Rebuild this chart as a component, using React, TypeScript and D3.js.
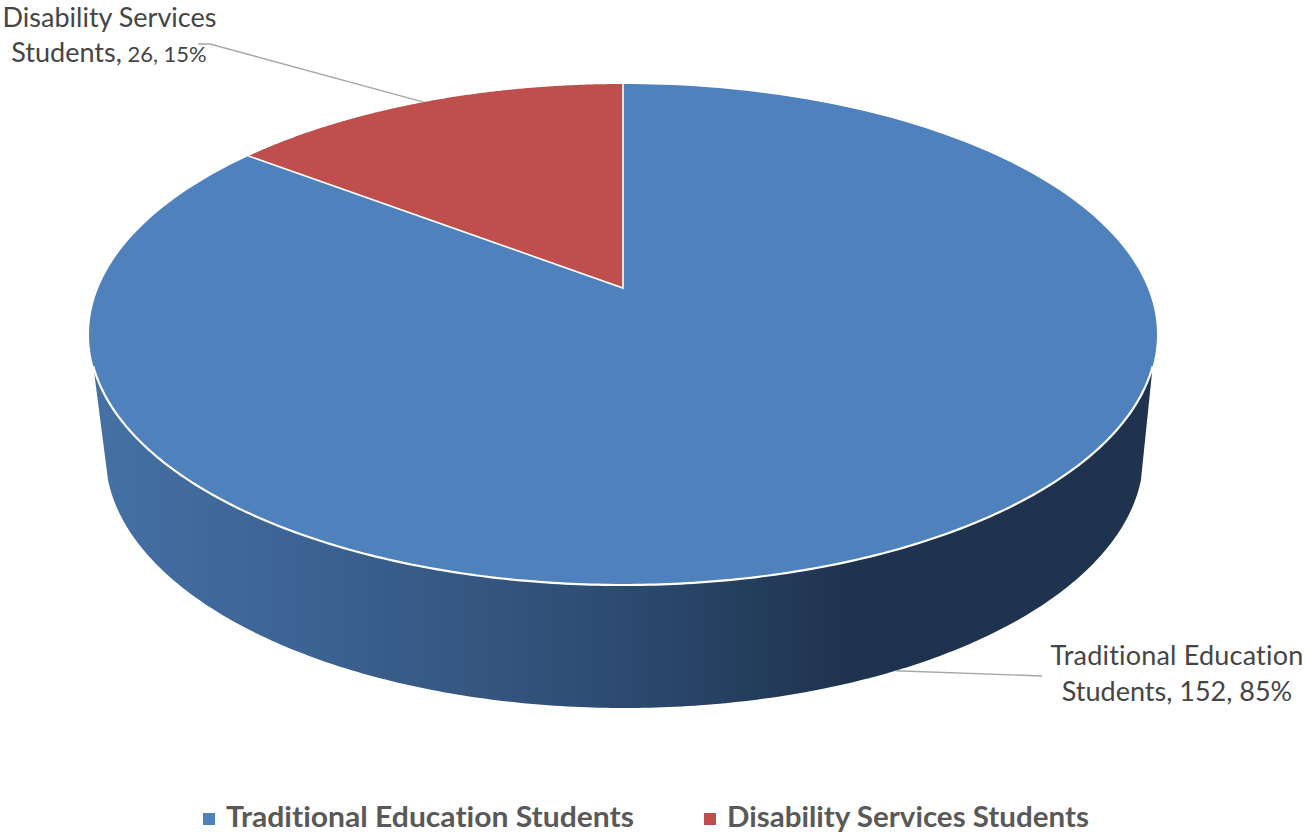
import React from "react";
import * as d3 from "d3";

const categories = ["Traditional Education Students", "Disability Services Students"];
const values = [152, 26];
const percents = ["85%", "15%"];
const colors = ["#4f81bd", "#be4f4c"];
const wallStops = [
  { x: 90, c: "#4571a5" },
  { x: 300, c: "#3c6393" },
  { x: 490, c: "#34557f" },
  { x: 630, c: "#2c4a6f" },
  { x: 850, c: "#1f334e" },
  { x: 1160, c: "#1f334e" },
];

const W = 1305, H = 833;
const top = { cx: 623, cy: 334.5, rx: 534, ry: 250.5 };
const bottom = { cx: 624.5, cy: 455, rx: 519, ry: 253 };
const apexY = 288;
const k = (top.cy - apexY) / top.ry;
const FONT = "Lato, 'Open Sans', sans-serif";

// perspective map of a unit circle (angle clockwise from north) to itself
const proj = (a: number) => {
  const d = 1 + k * Math.cos(a);
  return { x: (Math.sin(a) * Math.sqrt(1 - k * k)) / d, y: (Math.cos(a) + k) / d };
};
const on = (e: typeof top, a: number): [number, number] => {
  const p = proj(a);
  return [e.cx + e.rx * p.x, e.cy - e.ry * p.y];
};
const line = d3.line();
const rad = (deg: number) => (deg * Math.PI) / 180;

export default function App() {
  const arcs = d3.pie<number>().sort(null)(values);
  const apex: [number, number] = [top.cx, apexY];
  const sample = (e: typeof top, a0: number, a1: number) =>
    d3.range(0, 241).map((i) => on(e, a0 + ((a1 - a0) * i) / 240));

  const wedges = arcs.map((s) => line([apex, ...sample(top, s.startAngle, s.endAngle)])! + "Z");

  const ell = (e: typeof top, t0: number, t1: number) =>
    d3.range(0, 241).map((i): [number, number] => {
      const t = t0 + ((t1 - t0) * i) / 240;
      return [e.cx + e.rx * Math.sin(t), e.cy - e.ry * Math.cos(t)];
    });
  const rimStart = rad(97.3), rimEnd = rad(262.7);
  const wallPath =
    line([...ell(top, rimStart, rimEnd), ...ell(bottom, rad(264.3), rad(95.7))])! + "Z";
  const rim = line(ell(top, rimStart, rimEnd))!;

  const mid = arcs.map((s) => (s.startAngle + s.endAngle) / 2);
  const redEnd = on(top, mid[1]);
  const blueEnd = on(bottom, mid[0]);

  const stops = d3.scaleLinear().domain([90, 1160]).range([0, 100]);
  const gray = "#454545";
  const legendY = 827;

  return (
    <svg
      width={W}
      height={H}
      style={{ position: "absolute", left: 0, top: 0, display: "block", fontVariantLigatures: "none" }}
      fontFamily={FONT}
    >
      <defs>
        <linearGradient id="wall" gradientUnits="userSpaceOnUse" x1={90} x2={1160} y1={0} y2={0}>
          {wallStops.map((s) => (
            <stop key={s.x} offset={`${stops(s.x)}%`} stopColor={s.c} />
          ))}
        </linearGradient>
      </defs>
      <rect width={W} height={H} fill="#fff" />
      <path d={wallPath} fill="url(#wall)" />
      {wedges.map((d, i) => (
        <path key={i} d={d} fill={colors[i]} />
      ))}
      <path d={line([on(top, arcs[0].startAngle), apex, on(top, arcs[1].startAngle)])!} fill="none" stroke="#fff" strokeWidth={1.6} />
      <path d={rim} fill="none" stroke="#fff" strokeWidth={2.2} />

      <path d={line([[198, 44], [210, 44], redEnd])!} fill="none" stroke="#a6a6a6" strokeWidth={1.4} />
      <path d={line([blueEnd, [1042, 676]])!} fill="none" stroke="#a6a6a6" strokeWidth={1.4} />

      <g fill={gray} fontSize={27}>
        <text x={109.5} y={27} textAnchor="middle">Disability Services</text>
        <text x={109} y={62} textAnchor="middle">
          Students,<tspan fontSize={22}> {values[1]}, {percents[1]}</tspan>
        </text>
        <text x={1177} y={665} textAnchor="middle" letterSpacing={0.2}>Traditional Education</text>
        <text x={1177} y={701} textAnchor="middle">Students, {values[0]}, {percents[0]}</text>
      </g>

      <rect x={203} y={813} width={12} height={12} fill={colors[0]} />
      <rect x={704} y={813} width={12} height={12} fill={colors[1]} />
      <g fill="#595959" fontSize={28} fontWeight={700}>
        <text x={226} y={legendY} textLength={408} lengthAdjust="spacingAndGlyphs">{categories[0]}</text>
        <text x={727} y={legendY} textLength={362} lengthAdjust="spacingAndGlyphs">{categories[1]}</text>
      </g>
    </svg>
  );
}
